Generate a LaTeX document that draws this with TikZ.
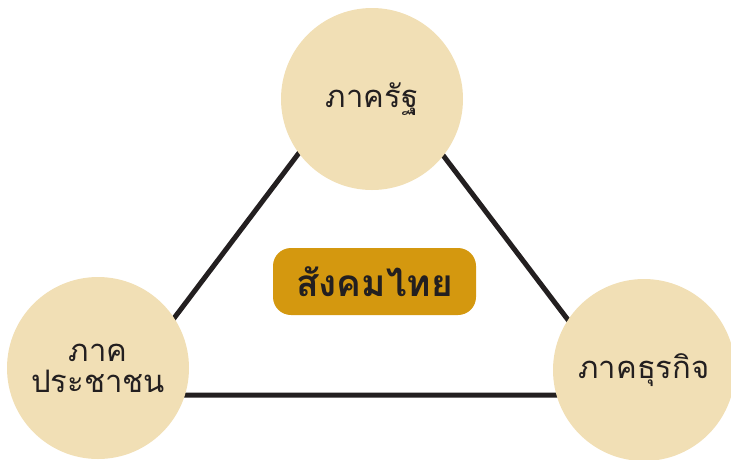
\documentclass[tikz,border=0pt]{standalone}
\usepackage{fontspec}
\usepackage{xcolor}
\newfontfamily\thaifont[Script=Thai]{Loma}
\definecolor{sectorfill}{HTML}{F1DFB5}
\definecolor{centerfill}{HTML}{D4980F}
\definecolor{linkline}{HTML}{231F20}

\begin{document}
\begin{tikzpicture}[x=1pt, y=-1pt,
    sector/.style={circle, fill=sectorfill, minimum size=182pt, inner sep=0pt,
        align=center, font=\thaifont\fontsize{31}{35}\selectfont, text=linkline},
    society/.style={rounded corners=18pt, fill=centerfill, minimum width=203pt,
        minimum height=67pt, font=\thaifont\bfseries\fontsize{37}{41}\selectfont, text=linkline}]
    \useasboundingbox (0,0) rectangle (731,459);
    \clip (0,0) rectangle (731,459);

    % Triangle behind the circles
    \coordinate (apex) at (370,59);
    \coordinate (baseL) at (116,395);
    \coordinate (baseR) at (625,395);
    \draw[linkline, line width=5pt] (apex) -- (baseL) -- (baseR) -- cycle;

    % Sectors
    \node[sector] (state) at (372,99) {ภาครัฐ};
    \node[sector] (people) at (98,368) {ภาค\\[-4pt]ประชาชน};
    \node[sector] (business) at (644,370) {ภาคธุรกิจ};

    % Centre
    \node[society] (thai) at (374.5,281.5) {สังคมไทย};
\end{tikzpicture}
\end{document}
